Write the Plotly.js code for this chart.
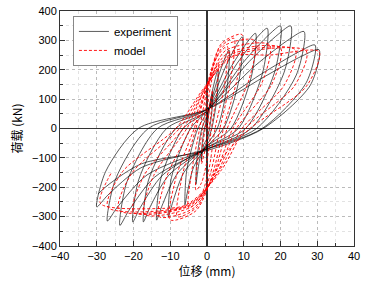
<!DOCTYPE html>
<html><head><meta charset="utf-8">
<script src="https://cdn.plot.ly/plotly-3.0.1.min.js"></script>
<style>html,body{margin:0;padding:0;background:#fff;}#chart{width:368px;height:284px;}</style>
</head><body><div id="chart"></div>
<script>
// Experiment hysteresis path (displacement mm, load kN)
const expX = [0,0.7,1.2,1.5,
 1.38,0.7,0,-0.9,-1.35,-1.5,
 -1.38,-0.7,0,1.5,2.55,3,
 2.76,1.3,0,-1.8,-2.7,-3,
 -2.76,-1.4,0,3,5.1,6,
 5.52,2.8,0,-3.6,-5.4,-6,
 -5.52,-2.5,0,4.8,8.16,9.6,
 8.83,4.5,0,-6.3,-9.45,-10.5,
 -9.66,-4.5,0,6.6,11.2,13.2,
 12.1,6.5,0,-8.2,-12.3,-13.7,
 -12.6,-6.5,0,8.2,13.9,16.4,
 15.1,8.5,0,-10.4,-15.6,-17.3,
 -15.9,-8.5,0,10,17,20,
 18.4,10.5,0,-12.1,-18.2,-20.2,
 -18.6,-11,0,11.4,19.4,22.8,
 21,12,0,-14.2,-21.3,-23.7,
 -21.8,-13.5,0,13.2,22.4,26.4,
 24.3,13.5,0,-16.3,-24.4,-27.1,
 -24.9,-16,0,14.7,25,29.4,
 27,15,0,-18,-27,-30,
 -27.6,-18.7,0,15.3,25.9,30.5,
 28.1,15.3,0,-17.8,-26.6,-29.6];
const expY = [0,70,105,120,
 66,0,-35,-55,-94,-110,
 -60,0,35,130,184,200,
 110,0,-45,-95,-162,-190,
 -105,0,45,174,246,267,
 147,0,-55,-130,-221,-260,
 -143,0,55,203,287,312,
 172,0,-60,-150,-256,-301,
 -166,0,60,211,298,324,
 178,0,-60,-156,-265,-312,
 -172,0,60,222,314,341,
 188,0,-65,-159,-270,-318,
 -175,0,60,227,321,349,
 192,0,-65,-159,-270,-318,
 -175,0,65,227,321,349,
 192,0,-70,-165,-280,-330,
 -182,0,65,215,304,330,
 182,0,-70,-158,-268,-315,
 -173,0,65,185,261,284,
 156,0,-70,-134,-227,-267,
 -147,0,65,174,247,268,
 147,0,-75,-120,-189,-222];
// Model hysteresis path
const modX = [0,0.8,1.5,
 1.3,0.5,-0.3,-1.5,
 -1.3,-0.5,0.5,1.8,3,
 2.6,1.2,0,-1.5,-3,
 -2.6,-1.2,0.3,2.5,5.5,
 4.8,2.2,0.5,-2,-5,
 -4.2,-2,0.5,3.5,7.3,
 6.4,3.5,1,-2.5,-8,
 -6.8,-3,0.5,4,9.5,
 8.3,4.5,1.5,-3,-10,
 -8.5,-3.5,0.5,4.5,13,
 11.4,5.5,2,-3.5,-13,
 -11,-4.5,0.5,5,17,
 15,7,2.5,-4,-17,
 -14.5,-5.5,0,5.5,20,
 17.6,8,3,-4.5,-20,
 -17,-6.5,0,6,24,
 21,9.5,3.5,-5,-24,
 -20.5,-7.5,-0.5,6.5,27,
 23.8,10.5,4,-5.5,-27,
 -23,-8.5,-1,7,17,30.5,
 27,11.7,4.4,0,-6,-12,-29,
 -26];
const modY = [0,80,130,
 70,0,-60,-120,
 -65,0,110,190,220,
 120,0,-110,-185,-210,
 -115,0,130,240,280,
 150,0,-140,-240,-270,
 -150,0,160,275,307,
 165,0,-150,-265,-300,
 -165,0,170,290,320,
 175,0,-155,-280,-311,
 -170,0,165,280,300,
 165,0,-150,-270,-300,
 -165,0,155,265,285,
 157,0,-145,-265,-292,
 -160,0,150,255,275,
 150,0,-145,-262,-285,
 -157,0,145,250,268,
 147,0,-140,-262,-278,
 -153,0,140,245,264,
 145,0,-140,-262,-268,
 -147,0,135,245,250,261,
 143,0,-96,-200,-262,-272,-255,
 -150];
const seriesNames = ['experiment','model'];
const xTickVals = [-40,-30,-20,-10,0,10,20,30,40];
const yTickVals = [-400,-300,-200,-100,0,100,200,300,400];

const traces = [
 {x:expX,y:expY,name:seriesNames[0],mode:'lines',
  line:{color:'rgba(0,0,0,0.72)',width:0.9,shape:'spline',smoothing:0.8}},
 {x:modX,y:modY,name:seriesNames[1],mode:'lines',
  line:{color:'#ff0000',width:0.9,dash:'3px,2px',shape:'spline',smoothing:0.8}}
];
const axBase = {showline:true,mirror:true,linecolor:'#333',linewidth:1,
  ticks:'inside',ticklen:5,tickcolor:'#333',
  showgrid:true,gridcolor:'#bbb',griddash:'dot',gridwidth:1,
  zeroline:true,zerolinecolor:'#333',zerolinewidth:1.5,
  tickfont:{family:'Liberation Sans, Arial',size:11,color:'#000'}};
const layout = {
 width:368,height:284,margin:{l:60,r:14,t:11,b:38},
 paper_bgcolor:'#fff',plot_bgcolor:'#fff',
 showlegend:true,
 legend:{x:0.044,y:0.979,xanchor:'left',yanchor:'top',bgcolor:'#fff',
   bordercolor:'#888',borderwidth:1,font:{family:'Liberation Sans, Arial',size:11.5,color:'#000'},
   tracegroupgap:0,itemwidth:30},
 xaxis:Object.assign({},axBase,{range:[-40,40],tickvals:xTickVals,
   minor:{dtick:5,ticks:'inside',ticklen:3,tickcolor:'#333',showgrid:true,gridcolor:'#e2e2e2',griddash:'dot'},
   title:{text:'位移 (mm)',font:{family:'Noto Sans CJK SC, Liberation Sans',size:12,color:'#000'},standoff:6}}),
 yaxis:Object.assign({},axBase,{range:[-400,400],tickvals:yTickVals,
   minor:{dtick:50,ticks:'inside',ticklen:3,tickcolor:'#333',showgrid:true,gridcolor:'#e2e2e2',griddash:'dot'},
   title:{text:'荷载 (kN)',font:{family:'Noto Sans CJK SC, Liberation Sans',size:12,color:'#000'},standoff:6}})
};
Plotly.newPlot('chart',traces,layout,{displayModeBar:false,staticPlot:true});
</script></body></html>
